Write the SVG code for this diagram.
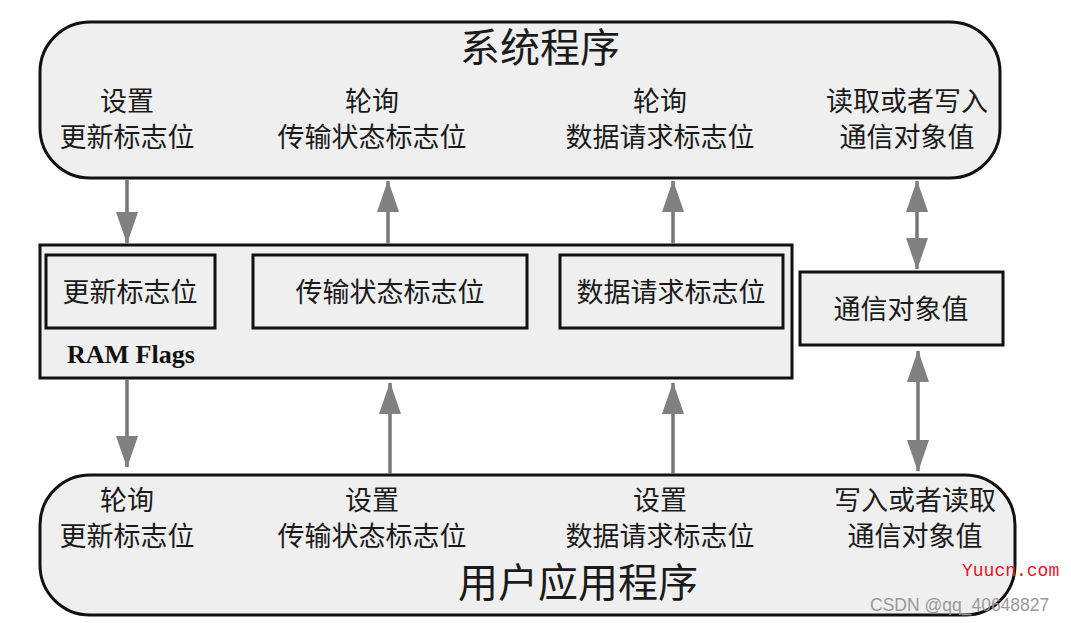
<svg xmlns="http://www.w3.org/2000/svg" width="1071" height="623" viewBox="0 0 1071 623">
<style>
.box{fill:#efefef;stroke:#111;stroke-width:3}
.t{font-family:"Noto Sans CJK SC","Noto Sans",sans-serif;font-size:27px;fill:#1a1a1a;text-anchor:middle}
.title{font-family:"Noto Sans CJK SC",sans-serif;font-size:40px;fill:#1a1a1a;text-anchor:middle}
.ram{font-family:"Liberation Serif",serif;font-size:26px;font-weight:bold;fill:#111}
.conn line{stroke:#777;stroke-width:3.5}
</style>
<defs>
<marker id="ah" markerUnits="userSpaceOnUse" markerWidth="32" markerHeight="24" viewBox="0 0 32 24" refX="31" refY="12" orient="auto-start-reverse">
<path d="M0,1 L32,12 L0,23 Z" fill="#808080"/>
</marker>
</defs>
<rect width="1071" height="623" fill="#fff"/>
<g id="system">
<rect class="box" x="40" y="22" width="960" height="156" rx="50"/>
<text class="title" x="540" y="62">系统程序</text>
<text class="t" x="127" y="111">设置</text>
<text class="t" x="127" y="147">更新标志位</text>
<text class="t" x="372" y="111">轮询</text>
<text class="t" x="372" y="147">传输状态标志位</text>
<text class="t" x="660" y="111">轮询</text>
<text class="t" x="660" y="147">数据请求标志位</text>
<text class="t" x="907" y="111">读取或者写入</text>
<text class="t" x="907" y="147">通信对象值</text>
</g>
<g id="ramflags">
<rect class="box" x="40" y="245" width="752" height="133"/>
<text class="ram" x="67" y="363">RAM Flags</text>
</g>
<g id="update-flag">
<rect class="box" x="46" y="255" width="169" height="73"/>
<text class="t" x="130" y="302">更新标志位</text>
</g>
<g id="transfer-flag">
<rect class="box" x="253" y="255" width="274" height="73"/>
<text class="t" x="390" y="302">传输状态标志位</text>
</g>
<g id="request-flag">
<rect class="box" x="560" y="255" width="223" height="73"/>
<text class="t" x="671" y="302">数据请求标志位</text>
</g>
<g id="comm-object">
<rect class="box" x="800" y="272" width="203" height="73"/>
<text class="t" x="901" y="319">通信对象值</text>
</g>
<g id="user-app">
<rect class="box" x="40" y="475" width="975" height="140" rx="50"/>
<text class="t" x="127" y="510">轮询</text>
<text class="t" x="127" y="546">更新标志位</text>
<text class="t" x="372" y="510">设置</text>
<text class="t" x="372" y="546">传输状态标志位</text>
<text class="t" x="660" y="510">设置</text>
<text class="t" x="660" y="546">数据请求标志位</text>
<text class="t" x="915" y="510">写入或者读取</text>
<text class="t" x="915" y="546">通信对象值</text>
<text class="title" x="578" y="597">用户应用程序</text>
</g>
<g id="connectors" class="conn">
<line x1="127" y1="180" x2="127" y2="243" marker-end="url(#ah)"/>
<line x1="388" y1="244" x2="388" y2="181" marker-end="url(#ah)"/>
<line x1="673" y1="244" x2="673" y2="181" marker-end="url(#ah)"/>
<line x1="917" y1="181" x2="917" y2="269" marker-start="url(#ah)" marker-end="url(#ah)"/>
<line x1="127" y1="379" x2="127" y2="467" marker-end="url(#ah)"/>
<line x1="390" y1="474" x2="390" y2="383" marker-end="url(#ah)"/>
<line x1="673" y1="474" x2="673" y2="383" marker-end="url(#ah)"/>
<line x1="918" y1="351" x2="918" y2="471" marker-start="url(#ah)" marker-end="url(#ah)"/>
</g>
<text x="962" y="576" font-family="Liberation Mono,monospace" font-size="18" fill="#e8141e">Yuucn.com</text>
<text x="870" y="611" font-family="Liberation Sans,sans-serif" font-size="17.5" fill="#999">CSDN @qq_40648827</text>
</svg>
